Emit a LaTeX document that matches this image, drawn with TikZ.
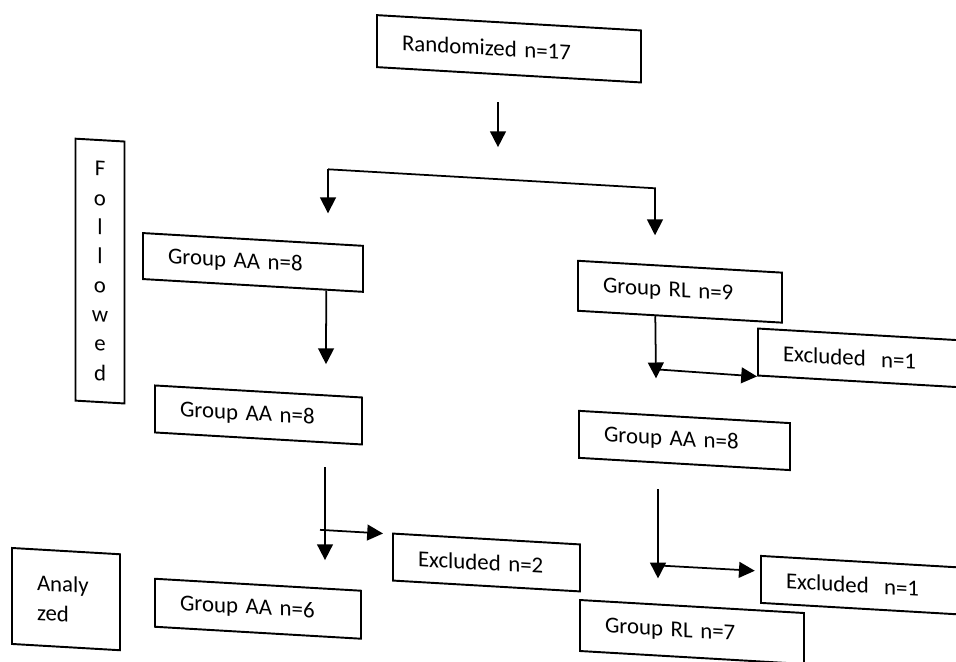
\documentclass[tikz,border=0pt]{standalone}
\usepackage{fontspec}
\setmainfont{Carlito}
\usetikzlibrary{arrows.meta,calc}

\begin{document}
\begin{tikzpicture}[x=0.02cm,y=-0.02cm,font=\fontsize{13}{17}\selectfont]
\tikzset{
% Two node styles for the chart: boxes with text and the side label
box/.style 2 args={draw,line width=1.1pt,align=left,inner xsep=0.5cm,inner ysep=0,text width=#1,minimum height=#2},
side/.style={draw,line width=1.1pt,align=center,inner sep=0}
}
\tikzstyle flow=[line width=1pt,-{Triangle[width=9pt,length=9pt]}]
% Page of the scan
\useasboundingbox (0,0) rectangle (956,662);
\clip (0,0) rectangle (956,662);
% The scan is slightly skewed
\begin{scope}[shift={(478,0)},yslant=-0.058,shift={(-478,0)},transform shape]
% The boxes
\node (rand)[box={4.28cm}{1.04cm}] at (509,47) {Randomized n=17};
\node (follow)[side,minimum width=0.98cm,minimum height=5.24cm,font=\fontsize{13}{16.6}\selectfont] at (100,293) {F\\o\\l\\l\\o\\w\\e\\d};
\node (aa1)[box={3.4cm}{0.92cm}] at (253,275.5) {Group AA n=8};
\node (rl9)[box={3.08cm}{1cm}] at (680,280) {Group RL n=9};
\node (exa)[box={3.08cm}{0.94cm}] at (860,335.8) {Excluded~ n=1};
\node (aa2)[box={3.14cm}{0.94cm}] at (258.5,427.7) {Group AA n=8};
\node (aa3)[box={3.22cm}{0.94cm}] at (684.5,428.5) {Group AA n=8};
\node (exb)[box={2.74cm}{0.94cm}] at (486.5,562) {Excluded n=2};
\node (exc)[box={3.08cm}{0.94cm}] at (863,563) {Excluded~ n=1};
\node (anal)[box={1.16cm}{1.92cm}] at (66,623) {Analy\\zed};
\node (aa6)[box={3.12cm}{0.96cm}] at (258,621.5) {Group AA n=6};
\node (rl7)[box={3.48cm}{1.02cm}] at (692,619.6) {Group RL n=7};
% The split
\coordinate (r1) at (498,101);
\coordinate (r2) at (498,146);
\coordinate (bl) at (328,178);
\coordinate (br) at (655,178);
\coordinate (blt) at (328,222);
\coordinate (brt) at (655,225);
\draw[flow] (r1) -- (r2);
\draw[flow] (bl) -- (blt);
\draw[flow] (bl) -- (br) -- (brt);
% Left column
\coordinate (a1t) at (326,373);
\coordinate (a2s) at (325,476);
\coordinate (a2t) at (325,569);
\coordinate (h2s) at (320,539);
\coordinate (h2t) at (383,539);
\draw[flow] ($(aa1.south west)!0.83!(aa1.south east)$) -- (a1t);
\draw[flow] (a2s) -- (a2t);
\draw[flow] (h2s) -- (h2t);
% Right column
\coordinate (r9t) at (656,368);
\coordinate (h9s) at (656,359);
\coordinate (a3s) at (658,479);
\coordinate (a3t) at (658,568);
\coordinate (h3s) at (658,555);
\draw[flow] ($(rl9.south west)!0.38!(rl9.south east)$) -- (r9t);
\draw[flow] (h9s) -- (exa.south west);
\draw[flow] (a3s) -- (a3t);
\draw[flow,shorten >=3pt] (h3s) -- ($(exc.north west)!0.33!(exc.south west)$);
\end{scope}
\end{tikzpicture}
\end{document}
